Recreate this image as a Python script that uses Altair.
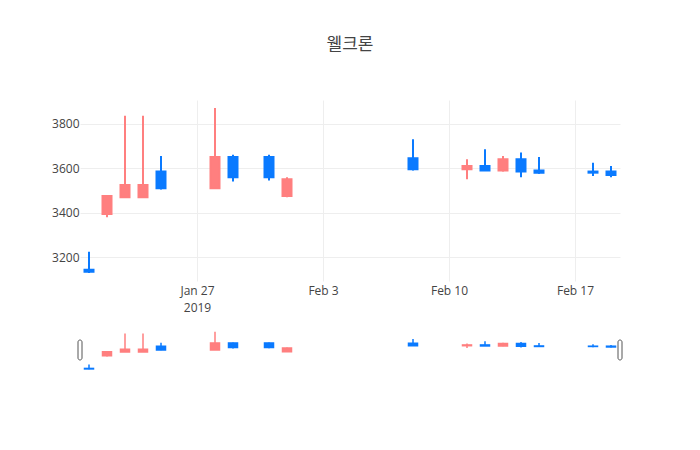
import altair as alt
import pandas as pd

dates = ["2019-01-21", "2019-01-22", "2019-01-23", "2019-01-24", "2019-01-25",
         "2019-01-28", "2019-01-29", "2019-01-31", "2019-02-01", "2019-02-08",
         "2019-02-11", "2019-02-12", "2019-02-13", "2019-02-14", "2019-02-15",
         "2019-02-18", "2019-02-19"]
opens  = [3145, 3395, 3470, 3470, 3585, 3510, 3650, 3650, 3475, 3645,
          3595, 3610, 3590, 3640, 3590, 3585, 3585]
highs  = [3225, 3475, 3835, 3835, 3655, 3870, 3660, 3660, 3560, 3730,
          3640, 3685, 3655, 3670, 3650, 3625, 3610]
lows   = [3130, 3380, 3470, 3470, 3505, 3510, 3540, 3545, 3470, 3590,
          3550, 3590, 3585, 3560, 3575, 3565, 3560]
closes = [3135, 3475, 3525, 3525, 3510, 3650, 3560, 3560, 3550, 3595,
          3610, 3590, 3640, 3585, 3580, 3580, 3570]

title_text = "웰크론"
x_ticks = [(2019, 1, 27), (2019, 2, 3), (2019, 2, 10), (2019, 2, 17)]
y_ticks = [3200, 3400, 3600, 3800]
x_start = (2019, 1, 20, 12)
x_end = (2019, 2, 19, 12)
y_domain = [3094, 3906]

UP = "#FF7F7F"
DOWN = "#0A7AFF"

df = pd.DataFrame({
    "date": [d + "T00:00:00" for d in dates],
    "open": opens, "high": highs, "low": lows, "close": closes,
})
df["dir"] = ["up" if c >= o else "down" for o, c in zip(opens, closes)]

def dt(t):
    if len(t) == 3:
        return alt.DateTime(year=t[0], month=t[1], date=t[2])
    return alt.DateTime(year=t[0], month=t[1], date=t[2], hours=t[3])

x_scale = alt.Scale(domain=[dt(x_start), dt(x_end)], padding=0)
y_scale = alt.Scale(domain=y_domain, nice=False, zero=False, padding=0)
dir_scale = alt.Scale(domain=["up", "down"], range=[UP, DOWN])
color = alt.Color("dir:N", scale=dir_scale, legend=None)
stroke = alt.Stroke("dir:N", scale=dir_scale, legend=None)

LABEL_FONT = "Open Sans"
TITLE_FONT = "Open Sans, Noto Sans CJK KR"
NOVIEW = alt.ViewBackground(stroke="transparent", strokeWidth=0)

x_axis_main = alt.Axis(
    values=[dt(t) for t in x_ticks],
    labelExpr="datum.index == 0 ? [timeFormat(datum.value, '%b %-d'), timeFormat(datum.value, '%Y')] : timeFormat(datum.value, '%b %-d')",
    grid=True, gridColor="#eeeeee", domain=False, ticks=False,
    title=None, labelPadding=4, labelLineHeight=17,
    labelFont=LABEL_FONT, labelFontSize=12, labelColor="#444",
    minExtent=40, maxExtent=40, labelFlush=False, labelOverlap=False,
)
y_axis_main = alt.Axis(values=y_ticks, grid=True, gridColor="#eeeeee", domain=False, ticks=False,
                       title=None, labelPadding=1,
                       labelFont=LABEL_FONT, labelFontSize=12, labelColor="#444",
                       minExtent=40, maxExtent=40, format="d")

base = alt.Chart(df)

wick = base.mark_rule(strokeWidth=2).encode(
    x=alt.X("date:T", scale=x_scale, axis=x_axis_main),
    y=alt.Y("low:Q", scale=y_scale, axis=y_axis_main),
    y2="high:Q",
    color=color,
)
body = base.mark_bar(size=9, strokeWidth=2).encode(
    x="date:T",
    y="open:Q",
    y2="close:Q",
    color=color,
    stroke=stroke,
)

main = alt.layer(wick, body).properties(
    width=540, height=181, view=NOVIEW,
    title=alt.TitleParams(title_text, fontSize=17, font=TITLE_FONT, color="#444",
                          fontWeight="normal", anchor="middle", frame="group", offset=46),
)

x_axis_slider = alt.Axis(labels=False, ticks=False, domain=False, grid=False, title=None)
y_axis_slider = alt.Axis(labels=False, ticks=False, domain=False, grid=False, title=None,
                         minExtent=40, maxExtent=40)

s_wick = base.mark_rule(strokeWidth=1.5).encode(
    x=alt.X("date:T", scale=x_scale, axis=x_axis_slider),
    y=alt.Y("low:Q", scale=y_scale, axis=y_axis_slider),
    y2="high:Q",
    color=color,
)
s_body = base.mark_bar(size=9, strokeWidth=1.5).encode(
    x="date:T",
    y="open:Q",
    y2="close:Q",
    color=color,
    stroke=stroke,
)

def handle(t):
    return alt.Chart(df).mark_rect(
        fill="white", stroke="#555", strokeWidth=1, cornerRadius=2,
        xOffset=-2, x2Offset=2,
    ).encode(
        x=alt.X(datum=dt(t), type="temporal"),
        x2=alt.X2(datum=dt(t)),
        y=alt.value(10),
        y2=alt.value(30),
    ).transform_filter("datum.open == " + str(opens[0]))

slider = alt.layer(s_wick, s_body, handle(x_start), handle(x_end)).properties(
    width=540, height=41, view=NOVIEW)

chart = alt.vconcat(main, slider, spacing=9).properties(
    padding={"left": 32, "top": 28, "right": 0, "bottom": 0}
).configure_axis(
    gridColor="#eeeeee", domain=False, ticks=False, labelColor="#444",
    labelFont=LABEL_FONT, labelFontSize=12,
).configure_view(stroke="transparent", strokeWidth=0).configure(background="white")

chart.save("out.html", embed_options={"renderer": "svg", "actions": False})
